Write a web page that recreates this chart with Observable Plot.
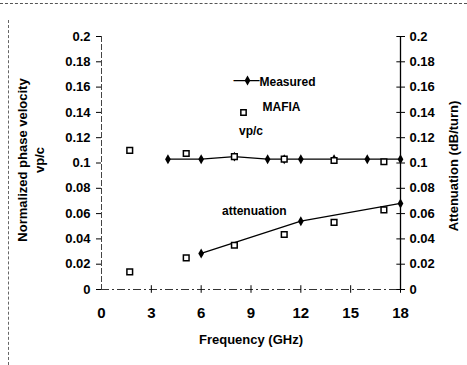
<!DOCTYPE html>
<html><head><meta charset="utf-8">
<script src="https://cdn.jsdelivr.net/npm/d3@7"></script>
<script src="https://cdn.jsdelivr.net/npm/@observablehq/plot@0.6"></script>
<style>
body{margin:0;background:#fff;}
#wrap{position:relative;width:467px;height:365px;overflow:hidden;}
#wrap:before{content:"";position:absolute;left:0;top:3px;width:467px;border-top:1px dashed #555;}
#wrap:after{content:"";position:absolute;left:8px;top:20px;height:345px;border-left:1px dashed #666;}
svg{font-family:"Liberation Sans",Arial,sans-serif;font-weight:bold;}
</style></head>
<body><div id="wrap"></div>
<script>
const xTicks = [0,3,6,9,12,15,18];
const yTicks = [0,0.02,0.04,0.06,0.08,0.1,0.12,0.14,0.16,0.18,0.2];
const measVpFreq = [4,6,8,10,11,12,14,16,18];
const measVp = [0.103,0.103,0.105,0.103,0.103,0.103,0.103,0.103,0.103];
const mafiaVpFreq = [1.7,5.1,8,11,14,17];
const mafiaVp = [0.110,0.1075,0.105,0.103,0.102,0.101];
const measAttFreq = [6,12,18];
const measAtt = [0.0285,0.054,0.068];
const mafiaAttFreq = [1.7,5.1,8,11,14,17];
const mafiaAtt = [0.014,0.025,0.035,0.0435,0.053,0.063];
const annotText = ["vp/c","attenuation"];
const annotX = [9.0,9.2];
const annotY = [0.125,0.062];
const legendLabels = ["Measured","MAFIA"];

const mv = measVpFreq.map((f,i)=>({f,v:measVp[i]}));
const fv = mafiaVpFreq.map((f,i)=>({f,v:mafiaVp[i]}));
const ma = measAttFreq.map((f,i)=>({f,v:measAtt[i]}));
const fa = mafiaAttFreq.map((f,i)=>({f,v:mafiaAtt[i]}));
const an = annotText.map((t,i)=>({t,x:annotX[i],y:annotY[i]}));
const fmt = d => String(+d.toFixed(2));

const chart = Plot.plot({
  width:467, height:365,
  marginLeft:101, marginRight:67, marginTop:36, marginBottom:76,
  style:{fontFamily:'"Liberation Sans",Arial,sans-serif',fontWeight:"bold",fontSize:"13px",color:"#000",background:"transparent"},
  x:{type:"linear",domain:[0,18]},
  y:{type:"linear",domain:[0,0.2]},
  marks:[
    Plot.ruleX([0],{stroke:"#444",strokeDasharray:"6,2"}),
    Plot.ruleY([0],{stroke:"#333",strokeDasharray:"8,3,2,3"}),
    Plot.ruleX([18],{stroke:"#000",strokeWidth:1.3}),
    Plot.ruleX(xTicks.slice(1),{y1:-0.003,y2:0.003,stroke:"#000"}),
    Plot.ruleY(yTicks,{x1:17.78,x2:18,stroke:"#000"}),
    Plot.axisX({ticks:xTicks,tickSize:0,tickPadding:18,tickFormat:d=>d,fontSize:15,label:null}),
    Plot.axisY({anchor:"left",ticks:yTicks,tickSize:5,tickPadding:6,tickFormat:fmt,label:null,fontSize:13}),
    Plot.axisY({anchor:"right",ticks:yTicks,tickSize:4,tickPadding:5,tickFormat:fmt,label:null,fontSize:13}),
    Plot.line(mv,{x:"f",y:"v",stroke:"#000",strokeWidth:1.3}),
    Plot.line(ma,{x:"f",y:"v",stroke:"#000",strokeWidth:1.3}),
    Plot.dot(mv,{x:"f",y:"v",symbol:"diamond",r:3,fill:"#000"}),
    Plot.dot(ma,{x:"f",y:"v",symbol:"diamond",r:3,fill:"#000"}),
    Plot.dot(fv,{x:"f",y:"v",symbol:"square",r:3.2,fill:"#fff",stroke:"#000",strokeWidth:1.5}),
    Plot.dot(fa,{x:"f",y:"v",symbol:"square",r:3.2,fill:"#fff",stroke:"#000",strokeWidth:1.5}),
    Plot.text(an,{x:"x",y:"y",text:"t",fontSize:12,letterSpacing:-0.5}),
    // legend
    Plot.text([legendLabels[0]],{frameAnchor:"top-left",dx:158,dy:41,textAnchor:"start",fontSize:12,letterSpacing:-0.5}),
    Plot.text([legendLabels[1]],{frameAnchor:"top-left",dx:161,dy:66,textAnchor:"start",fontSize:12,letterSpacing:-0.5}),
    Plot.text(["\u2014\u2014"],{frameAnchor:"top-left",dx:145,dy:38,textAnchor:"middle",fontSize:13}),
    Plot.dot([0],{frameAnchor:"top-left",dx:146,dy:44,symbol:"diamond",r:3,fill:"#000"}),
    Plot.dot([0],{frameAnchor:"top-left",dx:142,dy:76,symbol:"square",r:3,fill:"#fff",stroke:"#000",strokeWidth:1.5}),
    // axis titles
    Plot.text(["Frequency (GHz)"],{frameAnchor:"bottom",dy:54,fontSize:13,letterSpacing:-0.6}),
    Plot.text(["Normalized phase velocity"],{frameAnchor:"left",textAnchor:"middle",rotate:-90,dx:-79,dy:-3,fontSize:13}),
    Plot.text(["vp/c"],{frameAnchor:"left",textAnchor:"middle",rotate:-90,dx:-62,dy:-3,fontSize:13}),
    Plot.text(["Attenuation (dB/turn)"],{frameAnchor:"right",textAnchor:"middle",rotate:-90,dx:53,dy:3,fontSize:13})
  ]
});
document.getElementById("wrap").appendChild(chart);
</script></body></html>
